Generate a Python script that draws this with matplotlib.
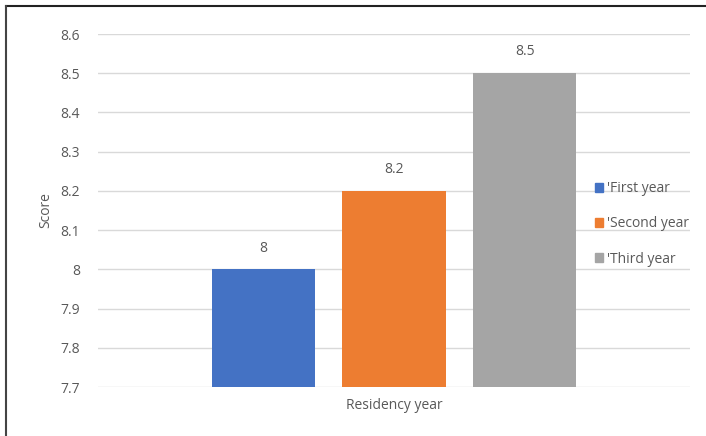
import numpy as np
import matplotlib.pyplot as plt
from matplotlib.lines import Line2D
from matplotlib.patches import Patch

years = ["'First year", "'Second year", "'Third year"]
scores = [8.0, 8.2, 8.5]
colors = ['#4472c4', '#ed7d31', '#a5a5a5']
yticks = [7.7, 7.8, 7.9, 8.0, 8.1, 8.2, 8.3, 8.4, 8.5, 8.6]
ytick_labels = ['7.7', '7.8', '7.9', '8', '8.1', '8.2', '8.3', '8.4', '8.5', '8.6']

plt.rcParams['font.family'] = ['Open Sans', 'DejaVu Sans']
txt = '#595959'

fig = plt.figure(figsize=(7.06, 4.36), dpi=100)
ax = fig.add_axes([98/706, 1-387/436, 592/706, 353/436])

width = 0.174
step = 0.221
for i, (s, c) in enumerate(zip(scores, colors)):
    x = 0.5 + (i - 1) * step
    ax.bar(x, s - 7.7, width, bottom=7.7, color=c, zorder=3)
    ax.text(x, s + 0.035, ('%g' % s), ha='center', va='bottom', fontsize=10, color=txt)

ax.set_xlim(0, 1)
ax.set_ylim(7.7, 8.6)
ax.set_yticks(yticks)
ax.set_yticklabels(ytick_labels)
ax.set_xticks([])
ax.grid(axis='y', color='#d9d9d9', linewidth=1, zorder=0)
for sp in ax.spines.values():
    sp.set_visible(False)
ax.tick_params(axis='y', length=0, pad=13, labelsize=10, colors=txt)
ax.set_ylabel('Score', fontsize=10, color=txt, labelpad=5)
ax.set_xlabel('Residency year', fontsize=10, color=txt, labelpad=8)

handles = [Patch(color=c) for c in colors]
leg = ax.legend(handles, years, loc='center left', bbox_to_anchor=(484/592, 0.462), frameon=False,
                fontsize=10, labelcolor=txt, handlelength=0.6, handleheight=0.6,
                handletextpad=0.3, labelspacing=1.45)

# border lines
fig.add_artist(Line2D([6/706, 1], [1-6/436, 1-6/436], color='#222222', linewidth=1.5))
fig.add_artist(Line2D([6/706, 6/706], [0, 1-6/436], color='#444444', linewidth=1.5))

fig.savefig('out.png', dpi=100)
